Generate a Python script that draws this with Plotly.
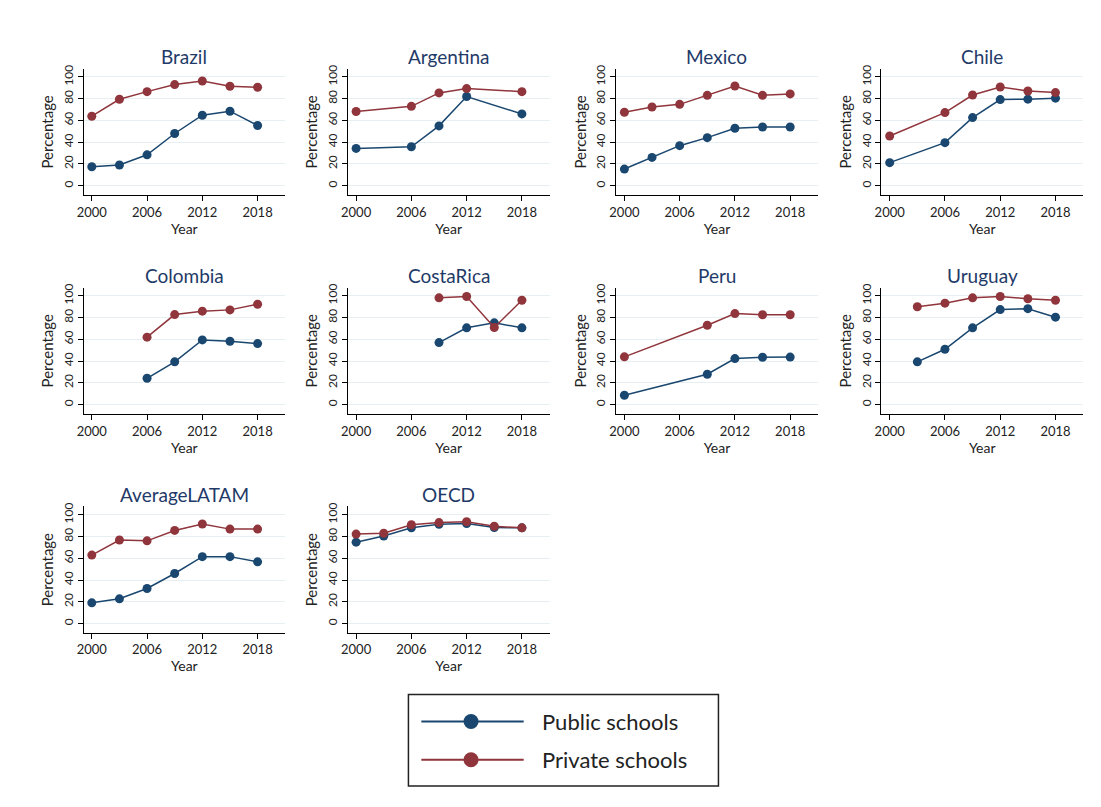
import plotly.graph_objects as go

years = [2000, 2003, 2006, 2009, 2012, 2015, 2018]
countries = ["Brazil", "Argentina", "Mexico", "Chile",
             "Colombia", "CostaRica", "Peru", "Uruguay",
             "AverageLATAM", "OECD"]

N = None
brazil_public = [17.4, 19.0, 28.4, 48.0, 64.8, 68.5, 55.4]
brazil_private = [63.9, 79.5, 86.5, 93.0, 96.3, 91.4, 90.5]
argentina_public = [34.3, N, 35.8, 55.0, 82.0, N, 66.0]
argentina_private = [68.2, N, 73.0, 85.3, 89.3, N, 86.5]
mexico_public = [15.3, 26.0, 36.8, 44.2, 52.8, 54.0, 54.0]
mexico_private = [67.5, 72.4, 74.8, 83.1, 91.7, 83.1, 84.4]
chile_public = [21.2, N, 39.6, 62.6, 79.2, 79.6, 80.5]
chile_private = [45.7, N, 67.2, 83.4, 90.8, 87.1, 85.6]
colombia_public = [N, N, 24.2, 39.3, 59.5, 58.3, 56.1]
colombia_private = [N, N, 62.0, 82.8, 85.9, 87.1, 92.3]
costarica_public = [N, N, N, 57.0, 70.6, 75.2, 70.6]
costarica_private = [N, N, N, 98.2, 99.4, 70.9, 96.0]
peru_public = [8.6, N, N, 27.9, 42.3, 43.5, 43.7]
peru_private = [43.9, N, N, 73.0, 83.7, 82.6, 82.6]
uruguay_public = [N, 39.3, 50.9, 70.6, 87.4, 88.2, 80.4]
uruguay_private = [N, 90.0, 93.3, 98.2, 99.4, 97.3, 96.0]
latam_public = [19.0, 22.7, 32.2, 46.0, 61.5, 61.5, 56.7]
latam_private = [62.9, 76.8, 76.0, 85.6, 91.5, 86.8, 86.8]
oecd_public = [74.8, 80.5, 88.0, 91.2, 92.0, 88.3, 88.0]
oecd_private = [82.2, 83.0, 90.8, 92.8, 93.6, 89.4, 88.0]

public_series = [brazil_public, argentina_public, mexico_public, chile_public,
                 colombia_public, costarica_public, peru_public, uruguay_public,
                 latam_public, oecd_public]
private_series = [brazil_private, argentina_private, mexico_private, chile_private,
                  colombia_private, costarica_private, peru_private, uruguay_private,
                  latam_private, oecd_private]

legend_labels = ["Public schools", "Private schools"]
x_ticks = [2000, 2006, 2012, 2018]
y_ticks = [0, 20, 40, 60, 80, 100]

PUB = "#1a476f"
PRI = "#90353b"
TITLE_C = "#1f3a68"
FONT = "Lato, DejaVu Sans, sans-serif"
W, H = 1101, 807

col_left = [77, 343, 613, 880]
row_top = [65, 285, 505]
pw, ph = 203, 127

fig = go.Figure()
layout = dict(
    width=W, height=H, margin=dict(l=0, r=0, t=0, b=0),
    paper_bgcolor="white", plot_bgcolor="white", showlegend=False,
    font=dict(family=FONT, color="#222"),
)
annotations = []

def valid(xs, ys):
    px, py = [], []
    for x, y in zip(xs, ys):
        if y is not None:
            px.append(x); py.append(y)
    return px, py

for i, name in enumerate(countries):
    r, c = divmod(i, 4)
    x0 = col_left[c] / W
    x1 = (col_left[c] + pw) / W
    y1 = 1 - row_top[r] / H
    y0 = 1 - (row_top[r] + ph) / H
    k = "" if i == 0 else str(i + 1)
    xa, ya = "x" + k, "y" + k
    for ys, col in [(public_series[i], PUB), (private_series[i], PRI)]:
        px, py = valid(years, ys)
        fig.add_trace(go.Scatter(x=px, y=py, mode="lines+markers", xaxis=xa, yaxis=ya,
                                 line=dict(color=col, width=1.5),
                                 marker=dict(color=col, size=9)))
    layout["xaxis" + k] = dict(
        domain=[x0, x1], anchor=ya, range=[1999.1, 2021], tickvals=x_ticks,
        showline=True, linecolor="#000", linewidth=1, ticks="outside", ticklen=5,
        tickcolor="#000", showgrid=False, zeroline=False,
        tickfont=dict(size=13, color="#222"),
        title=dict(text="Year", font=dict(size=14, color="#222"), standoff=0),
    )
    layout["yaxis" + k] = dict(
        domain=[y0, y1], anchor=xa, range=[-8.6, 107.6], tickvals=y_ticks,
        showline=True, linecolor="#000", linewidth=1, ticks="outside", ticklen=5,
        tickcolor="#000", showgrid=True, gridcolor="#e6eff1", gridwidth=1,
        zeroline=False, tickangle=-90,
        tickfont=dict(size=12, color="#222"),
        title=dict(text="Percentage", font=dict(size=15, color="#222"), standoff=3),
    )
    annotations.append(dict(text=name, x=(x0 + x1) / 2, y=1 - (row_top[r] - 12) / H,
                            xref="paper", yref="paper",
                            showarrow=False, xanchor="center", yanchor="middle",
                            font=dict(size=19, color=TITLE_C, family=FONT)))

# custom legend in its own hidden axis
lk = str(len(countries) + 1)
layout["xaxis" + lk] = dict(domain=[404 / W, 716 / W], anchor="y" + lk, range=[0, 312],
                            visible=False, fixedrange=True)
layout["yaxis" + lk] = dict(domain=[1 - 786 / H, 1 - 694 / H], anchor="x" + lk, range=[92, 0],
                            visible=False, fixedrange=True)
for j, (lab, col) in enumerate(zip(legend_labels, [PUB, PRI])):
    yy = 27 + j * 38.5
    fig.add_trace(go.Scatter(x=[13, 116], y=[yy, yy], mode="lines", xaxis="x" + lk, yaxis="y" + lk,
                             line=dict(color=col, width=2), hoverinfo="skip"))
    fig.add_trace(go.Scatter(x=[63], y=[yy], mode="markers", xaxis="x" + lk, yaxis="y" + lk,
                             marker=dict(color=col, size=15), hoverinfo="skip"))
    annotations.append(dict(text=lab, x=132, y=yy, xref="x" + lk, yref="y" + lk, showarrow=False,
                            xanchor="left", yanchor="middle",
                            font=dict(size=22, color="#222", family=FONT)))

layout["shapes"] = [dict(type="rect", xref="paper", yref="paper",
                         x0=404 / W, x1=716 / W, y0=1 - 786 / H, y1=1 - 694 / H,
                         line=dict(color="#222", width=1.5), fillcolor="rgba(0,0,0,0)")]
layout["annotations"] = annotations
fig.update_layout(**layout)
fig.write_html("out.html", config={"displayModeBar": False},
               post_script="document.body.style.margin='0';document.body.style.overflow='hidden';")
